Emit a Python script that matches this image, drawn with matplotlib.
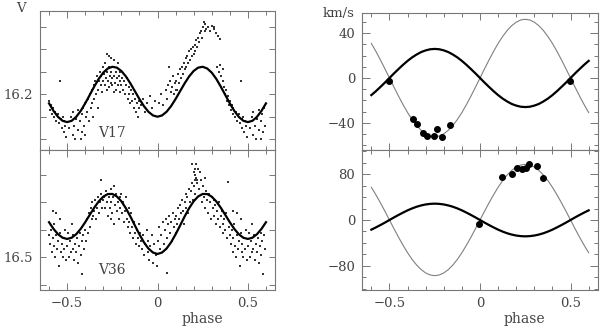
import numpy as np
import matplotlib
matplotlib.use('Agg')
import matplotlib.pyplot as plt
from matplotlib.ticker import MultipleLocator, FuncFormatter

plt.rcParams['font.family'] = ['DejaVu Serif']

# ---------------- data ----------------
# phase grid of the model curves (-0.6 .. 0.6, step 0.025)
model_phase = np.linspace(-0.6, 0.6, 49)

v17_model = [16.2204, 16.2372, 16.2505, 16.2591, 16.2620, 16.2591, 16.2505, 16.2372, 16.2204,
             16.2017, 16.1830, 16.1658, 16.1520, 16.1428, 16.1390, 16.1409, 16.1483, 16.1604,
             16.1759, 16.1933, 16.2107, 16.2265, 16.2391, 16.2472, 16.2500, 16.2472, 16.2391,
             16.2265, 16.2107, 16.1933, 16.1759, 16.1604, 16.1483, 16.1409, 16.1390, 16.1428,
             16.1520, 16.1658, 16.1830, 16.2017, 16.2204, 16.2372, 16.2505, 16.2591, 16.2620,
             16.2591, 16.2505, 16.2372, 16.2204]

v36_model = [16.4363, 16.4485, 16.4582, 16.4645, 16.4667, 16.4645, 16.4582, 16.4485, 16.4363,
             16.4230, 16.4099, 16.3984, 16.3898, 16.3851, 16.3849, 16.3894, 16.3982, 16.4108,
             16.4259, 16.4423, 16.4584, 16.4728, 16.4842, 16.4914, 16.4940, 16.4914, 16.4842,
             16.4728, 16.4584, 16.4423, 16.4259, 16.4108, 16.3982, 16.3894, 16.3849, 16.3851,
             16.3898, 16.3984, 16.4099, 16.4230, 16.4363, 16.4485, 16.4582, 16.4645, 16.4667,
             16.4645, 16.4582, 16.4485, 16.4363]

v17_rv_primary = [-15.3, -11.8, -8.0, -4.1, 0, 4.1, 8.0, 11.8, 15.3, 18.4, 21.0, 23.2, 24.7,
                  25.7, 26.0, 25.7, 24.7, 23.2, 21.0, 18.4, 15.3, 11.8, 8.0, 4.1, 0, -4.1,
                  -8.0, -11.8, -15.3, -18.4, -21.0, -23.2, -24.7, -25.7, -26.0, -25.7, -24.7,
                  -23.2, -21.0, -18.4, -15.3, -11.8, -8.0, -4.1, 0, 4.1, 8.0, 11.8, 15.3]
v17_rv_secondary = [30.9, 23.8, 16.2, 8.2, 0, -8.2, -16.2, -23.8, -30.9, -37.1, -42.5, -46.8,
                    -49.9, -51.9, -52.5, -51.9, -49.9, -46.8, -42.5, -37.1, -30.9, -23.8, -16.2,
                    -8.2, 0, 8.2, 16.2, 23.8, 30.9, 37.1, 42.5, 46.8, 49.9, 51.9, 52.5, 51.9,
                    49.9, 46.8, 42.5, 37.1, 30.9, 23.8, 16.2, 8.2, 0, -8.2, -16.2, -23.8, -30.9]
v36_rv_primary = [-16.8, -12.9, -8.8, -4.5, 0, 4.5, 8.8, 12.9, 16.8, 20.2, 23.1, 25.4, 27.1,
                  28.1, 28.5, 28.1, 27.1, 25.4, 23.1, 20.2, 16.8, 12.9, 8.8, 4.5, 0, -4.5,
                  -8.8, -12.9, -16.8, -20.2, -23.1, -25.4, -27.1, -28.1, -28.5, -28.1, -27.1,
                  -25.4, -23.1, -20.2, -16.8, -12.9, -8.8, -4.5, 0, 4.5, 8.8, 12.9, 16.8]
v36_rv_secondary = [57.0, 44.0, 30.0, 15.2, 0, -15.2, -30.0, -44.0, -57.0, -68.6, -78.5, -86.4,
                    -92.3, -95.8, -97.0, -95.8, -92.3, -86.4, -78.5, -68.6, -57.0, -44.0, -30.0,
                    -15.2, 0, 15.2, 30.0, 44.0, 57.0, 68.6, 78.5, 86.4, 92.3, 95.8, 97.0, 95.8,
                    92.3, 86.4, 78.5, 68.6, 57.0, 44.0, 30.0, 15.2, 0, -15.2, -30.0, -44.0, -57.0]

# measured radial velocities
v17_rv_phase = [-0.50, -0.371, -0.346, -0.316, -0.294, -0.255, -0.239, -0.211, -0.165, 0.495]
v17_rv = [-3.0, -36.4, -41.2, -49.6, -51.6, -51.6, -46.0, -53.2, -41.8, -3.0]
v36_rv_phase = [-0.005, 0.12, 0.178, 0.206, 0.23, 0.254, 0.27, 0.316, 0.349]
v36_rv = [-7.5, 75.3, 80.0, 91.0, 88.7, 91.0, 97.4, 94.0, 72.5]

# photometry (phase, V) in [-0.5, 0.5); repeated outside that range when drawn
v17_points = [
    (-0.50, 16.262), (-0.49, 16.275), (-0.48, 16.25), (-0.47, 16.29), (-0.47, 16.24),
    (-0.46, 16.27), (-0.455, 16.30), (-0.45, 16.255), (-0.44, 16.28), (-0.44, 16.235),
    (-0.43, 16.26), (-0.425, 16.30), (-0.42, 16.245), (-0.415, 16.285), (-0.41, 16.23),
    (-0.405, 16.27), (-0.40, 16.22), (-0.40, 16.29), (-0.395, 16.25),
    (-0.39, 16.24), (-0.385, 16.21), (-0.38, 16.26), (-0.375, 16.20), (-0.37, 16.23),
    (-0.365, 16.19), (-0.36, 16.22), (-0.355, 16.25), (-0.35, 16.18), (-0.35, 16.21),
    (-0.345, 16.17), (-0.34, 16.20), (-0.335, 16.16), (-0.33, 16.19), (-0.33, 16.23),
    (-0.325, 16.17), (-0.32, 16.15), (-0.315, 16.18), (-0.31, 16.16), (-0.305, 16.195),
    (-0.30, 16.14), (-0.30, 16.17),
    (-0.295, 16.155), (-0.29, 16.18), (-0.29, 16.13), (-0.285, 16.165), (-0.28, 16.19),
    (-0.28, 16.15), (-0.275, 16.17), (-0.27, 16.14), (-0.27, 16.185), (-0.265, 16.16),
    (-0.26, 16.175), (-0.26, 16.12), (-0.255, 16.15), (-0.25, 16.18), (-0.25, 16.165),
    (-0.245, 16.14), (-0.24, 16.195), (-0.24, 16.16), (-0.235, 16.175), (-0.23, 16.15),
    (-0.23, 16.19), (-0.225, 16.165), (-0.22, 16.13), (-0.22, 16.18), (-0.215, 16.16),
    (-0.21, 16.17), (-0.21, 16.195), (-0.205, 16.15), (-0.20, 16.18), (-0.28, 16.11),
    (-0.27, 16.115), (-0.24, 16.125),
    (-0.195, 16.165), (-0.19, 16.19), (-0.185, 16.17), (-0.18, 16.20), (-0.175, 16.18),
    (-0.17, 16.165), (-0.165, 16.21), (-0.16, 16.185), (-0.155, 16.20), (-0.15, 16.22),
    (-0.145, 16.19), (-0.14, 16.215), (-0.135, 16.20), (-0.13, 16.23), (-0.125, 16.21),
    (-0.12, 16.24), (-0.115, 16.22), (-0.11, 16.25), (-0.105, 16.23), (-0.10, 16.215),
    (-0.09, 16.225), (-0.08, 16.21), (-0.07, 16.24), (-0.06, 16.22), (-0.04, 16.205),
    (-0.03, 16.23), (-0.015, 16.215),
    (0.01, 16.22), (0.02, 16.20), (0.03, 16.225), (0.045, 16.19), (0.05, 16.21),
    (0.06, 16.18), (0.065, 16.14), (0.07, 16.17), (0.075, 16.195), (0.08, 16.185),
    (0.085, 16.16), (0.09, 16.20), (0.095, 16.175), (0.10, 16.19),
    (0.105, 16.17), (0.11, 16.19), (0.115, 16.155), (0.12, 16.175), (0.125, 16.145),
    (0.13, 16.165), (0.135, 16.14), (0.14, 16.155), (0.145, 16.13), (0.15, 16.145),
    (0.155, 16.12), (0.16, 16.14), (0.165, 16.115), (0.17, 16.13), (0.175, 16.105),
    (0.18, 16.125), (0.185, 16.10), (0.19, 16.115), (0.195, 16.095), (0.20, 16.11),
    (0.205, 16.09), (0.21, 16.105), (0.215, 16.08), (0.22, 16.095), (0.225, 16.075),
    (0.23, 16.085), (0.235, 16.065), (0.24, 16.06), (0.245, 16.075), (0.25, 16.05),
    (0.255, 16.04), (0.26, 16.06), (0.265, 16.045), (0.27, 16.055), (0.28, 16.05),
    (0.29, 16.06), (0.30, 16.048), (0.31, 16.055), (0.315, 16.05), (0.325, 16.065),
    (0.335, 16.07), (0.345, 16.078),
    (0.33, 16.14), (0.34, 16.15), (0.345, 16.135), (0.35, 16.16), (0.36, 16.145),
    (0.365, 16.17), (0.37, 16.185), (0.375, 16.20), (0.38, 16.19), (0.385, 16.215),
    (0.39, 16.205), (0.395, 16.225), (0.40, 16.215), (0.405, 16.235), (0.41, 16.225),
    (0.415, 16.245), (0.42, 16.23), (0.43, 16.25), (0.435, 16.24), (0.44, 16.26),
    (0.45, 16.245), (0.455, 16.265), (0.46, 16.17), (0.465, 16.255), (0.47, 16.275),
    (0.475, 16.25), (0.48, 16.285), (0.485, 16.26), (0.49, 16.27), (0.495, 16.295),
]

v36_points = [
    (-0.50, 16.48), (-0.495, 16.455), (-0.49, 16.50), (-0.485, 16.47), (-0.48, 16.49),
    (-0.475, 16.44), (-0.47, 16.485), (-0.465, 16.46), (-0.46, 16.505), (-0.455, 16.475),
    (-0.45, 16.49), (-0.445, 16.465), (-0.44, 16.51), (-0.435, 16.48), (-0.43, 16.455),
    (-0.425, 16.495), (-0.42, 16.47), (-0.415, 16.53), (-0.41, 16.46), (-0.405, 16.485),
    (-0.40, 16.45),
    (-0.395, 16.47), (-0.39, 16.43), (-0.385, 16.455), (-0.38, 16.42), (-0.375, 16.445),
    (-0.37, 16.41), (-0.365, 16.43), (-0.36, 16.40), (-0.355, 16.425), (-0.35, 16.415),
    (-0.345, 16.395), (-0.34, 16.43), (-0.335, 16.41), (-0.33, 16.39), (-0.325, 16.42),
    (-0.32, 16.40), (-0.315, 16.385), (-0.31, 16.36), (-0.305, 16.41), (-0.30, 16.395),
    (-0.295, 16.39), (-0.29, 16.41), (-0.285, 16.38), (-0.28, 16.40), (-0.275, 16.425),
    (-0.27, 16.39), (-0.265, 16.41), (-0.26, 16.375), (-0.255, 16.40), (-0.25, 16.42),
    (-0.245, 16.39), (-0.24, 16.44), (-0.235, 16.405), (-0.23, 16.385), (-0.225, 16.415),
    (-0.22, 16.40), (-0.215, 16.43), (-0.21, 16.39), (-0.205, 16.41), (-0.20, 16.385),
    (-0.26, 16.43), (-0.24, 16.37),
    (-0.195, 16.42), (-0.19, 16.40), (-0.185, 16.435), (-0.18, 16.415), (-0.175, 16.39),
    (-0.17, 16.43), (-0.165, 16.445), (-0.16, 16.41), (-0.155, 16.435), (-0.15, 16.455),
    (-0.145, 16.42), (-0.14, 16.445), (-0.135, 16.465), (-0.13, 16.435), (-0.125, 16.455),
    (-0.12, 16.475), (-0.115, 16.45), (-0.11, 16.465), (-0.105, 16.44), (-0.10, 16.48),
    (-0.095, 16.455), (-0.09, 16.47), (-0.085, 16.485), (-0.08, 16.46), (-0.075, 16.495),
    (-0.07, 16.475), (-0.06, 16.45), (-0.055, 16.49), (-0.05, 16.47), (-0.045, 16.505),
    (-0.04, 16.48), (-0.03, 16.46), (-0.025, 16.51), (-0.02, 16.475), (-0.01, 16.495),
    (-0.005, 16.515),
    (0.005, 16.47), (0.01, 16.445), (0.015, 16.485), (0.02, 16.46), (0.03, 16.435),
    (0.035, 16.475), (0.04, 16.45), (0.045, 16.43), (0.05, 16.528), (0.055, 16.465),
    (0.06, 16.44), (0.065, 16.425), (0.07, 16.455), (0.075, 16.435), (0.08, 16.47),
    (0.085, 16.42), (0.09, 16.445), (0.095, 16.43), (0.10, 16.455),
    (0.105, 16.425), (0.11, 16.44), (0.115, 16.41), (0.12, 16.43), (0.125, 16.405),
    (0.13, 16.42), (0.135, 16.395), (0.14, 16.415), (0.145, 16.44), (0.15, 16.40),
    (0.155, 16.385), (0.16, 16.41), (0.165, 16.39), (0.17, 16.42), (0.175, 16.375),
    (0.18, 16.40), (0.185, 16.38), (0.19, 16.365), (0.195, 16.395), (0.20, 16.37),
    (0.19, 16.33), (0.20, 16.345), (0.21, 16.34), (0.215, 16.355), (0.205, 16.36),
    (0.22, 16.365),
    (0.205, 16.35), (0.21, 16.385), (0.215, 16.33), (0.22, 16.36), (0.225, 16.34),
    (0.23, 16.375), (0.235, 16.345), (0.24, 16.36), (0.245, 16.40), (0.25, 16.37),
    (0.255, 16.39), (0.26, 16.355), (0.265, 16.41), (0.27, 16.38), (0.275, 16.395),
    (0.28, 16.42), (0.285, 16.385), (0.29, 16.40), (0.295, 16.43), (0.30, 16.39),
    (0.305, 16.41), (0.31, 16.395), (0.315, 16.425), (0.32, 16.405), (0.325, 16.44),
    (0.33, 16.415), (0.335, 16.43), (0.34, 16.40), (0.345, 16.445), (0.35, 16.425),
    (0.355, 16.415), (0.36, 16.44), (0.365, 16.455), (0.37, 16.43), (0.375, 16.45),
    (0.38, 16.42), (0.385, 16.465), (0.39, 16.363), (0.395, 16.445), (0.40, 16.46),
    (0.405, 16.475), (0.41, 16.45), (0.415, 16.49), (0.42, 16.465), (0.425, 16.44),
    (0.43, 16.48), (0.435, 16.50), (0.44, 16.46), (0.445, 16.485), (0.45, 16.47),
    (0.455, 16.515), (0.46, 16.455), (0.465, 16.49), (0.47, 16.475), (0.475, 16.50),
    (0.48, 16.465), (0.485, 16.485), (0.49, 16.45), (0.495, 16.505), (0.42, 16.415),
    (0.44, 16.42), (0.46, 16.43),
]

star_labels = ["V17", "V36"]

# ---------------- style ----------------
TXT = '#444444'
FRAME = '#777777'
FS = 9.5
W, H = 600, 329

fig = plt.figure(figsize=(6.0, 3.29), dpi=100)


def ax_at(x0, y0, x1, y1):
    return fig.add_axes([x0 / W, 1 - y1 / H, (x1 - x0) / W, (y1 - y0) / H])


def fmt(v, pos=None):
    s = f'{v:g}'
    return s.replace('-', '\u2212')


def style(ax, show_x):
    for sp in ax.spines.values():
        sp.set_color(FRAME)
        sp.set_linewidth(0.8)
    ax.set_xlim(-0.65, 0.65)
    ax.xaxis.set_major_locator(MultipleLocator(0.5))
    ax.xaxis.set_minor_locator(MultipleLocator(0.1))
    ax.xaxis.set_major_formatter(FuncFormatter(fmt))
    ax.tick_params(axis='both', which='both', direction='in', top=True, right=True,
                   color=FRAME, width=0.7, labelcolor=TXT, labelsize=FS)
    ax.tick_params(axis='x', which='major', length=5, pad=5)
    ax.tick_params(axis='x', which='minor', length=3)
    ax.tick_params(axis='y', which='major', pad=5)
    if not show_x:
        ax.tick_params(axis='x', which='both', labelbottom=False)
    else:
        ax.set_xlabel('phase', color=TXT, fontsize=FS + 0.5, labelpad=2)
        ax.xaxis.set_label_coords(0.69, -0.155)


def wrap(points):
    ph = np.array([p[0] for p in points])
    mg = np.array([p[1] for p in points])
    lo = ph < -0.4
    hi = ph >= 0.4
    return (np.concatenate([ph, ph[lo] + 1, ph[hi] - 1]),
            np.concatenate([mg, mg[lo], mg[hi]]))


# ---- left panels: light curves ----
lc_axes = [ax_at(40, 11, 275, 150), ax_at(40, 150, 275, 290)]
lc_data = [(v17_points, v17_model, (16.324, 16.015), 16.2, (-0.25, 16.287)),
           (v36_points, v36_model, (16.5595, 16.305), 16.5, (-0.25, 16.523))]
for i, (ax, (pts, model, ylim, lab, txtpos)) in enumerate(zip(lc_axes, lc_data)):
    ph, mg = wrap(pts)
    ax.scatter(ph, mg, s=0.9, marker='s', c='#333333', linewidths=0, zorder=2)
    ax.plot(model_phase, model, color='black', lw=1.6, zorder=3)
    ax.set_ylim(*ylim)
    ax.yaxis.set_major_locator(MultipleLocator(0.05))
    ax.yaxis.set_major_formatter(FuncFormatter(
        lambda v, p, lab=lab: f'{lab:.1f}' if abs(v - lab) < 1e-6 else ''))
    style(ax, show_x=(i == 1))
    ax.tick_params(axis='y', which='major', length=4.5)
    ax.text(txtpos[0], txtpos[1], star_labels[i], ha='center', va='center',
            color=TXT, fontsize=FS + 0.5)

fig.text(20.7 / W, 1 - 8.5 / H, 'V', ha='center', va='center', color=TXT, fontsize=FS)

# ---- right panels: radial velocities ----
rv_axes = [ax_at(362.3, 12.7, 597.7, 150), ax_at(362.3, 150, 597.7, 290)]
rv_data = [(v17_rv_primary, v17_rv_secondary, v17_rv_phase, v17_rv, (-64.4, 58.4), 40, 10),
           (v36_rv_primary, v36_rv_secondary, v36_rv_phase, v36_rv, (-122, 122), 80, 20)]
for i, (ax, (prim, sec, dph, dv, ylim, maj, mnr)) in enumerate(zip(rv_axes, rv_data)):
    ax.plot(model_phase, sec, color='#808080', lw=0.8, zorder=2)
    ax.plot(model_phase, prim, color='black', lw=1.6, zorder=3)
    ax.plot(dph, dv, 'o', color='black', ms=4.0, zorder=4)
    ax.set_ylim(*ylim)
    ax.yaxis.set_major_locator(MultipleLocator(maj))
    ax.yaxis.set_minor_locator(MultipleLocator(mnr))
    ax.yaxis.set_major_formatter(FuncFormatter(fmt))
    style(ax, show_x=(i == 1))
    ax.tick_params(axis='y', which='major', length=5.5)
    ax.tick_params(axis='y', which='minor', length=3)

fig.text(338.5 / W, 1 - 14 / H, 'km/s', ha='center', va='center', color=TXT, fontsize=FS)

fig.savefig('out.png', dpi=100)
